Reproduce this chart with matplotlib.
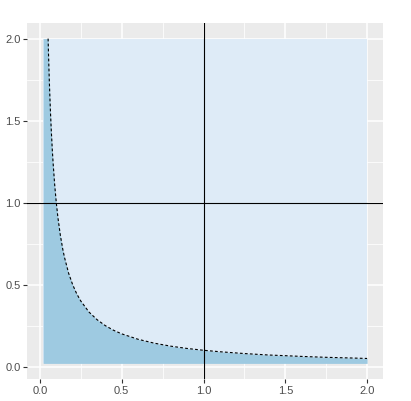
import matplotlib
matplotlib.use("Agg")
import matplotlib.pyplot as plt
import numpy as np

plt.rcParams['font.family'] = ['Liberation Sans', 'DejaVu Sans']

# rectangle bounds (light region)
rect_x = [0.02, 2.0]
rect_y = [0.02, 2.0]

# curve values
curve_x = [0.05, 0.055, 0.06, 0.065, 0.07, 0.075, 0.08, 0.09, 0.1, 0.11, 0.125, 0.14, 0.15,
           0.175, 0.2, 0.225, 0.25, 0.3, 0.35, 0.4, 0.45, 0.5, 0.6, 0.7, 0.8, 0.9, 1.0,
           1.1, 1.25, 1.4, 1.5, 1.6, 1.75, 1.9, 2.0]
curve_y = [2.0, 1.818, 1.667, 1.538, 1.429, 1.333, 1.25, 1.111, 1.0, 0.909, 0.8, 0.714, 0.667,
           0.571, 0.5, 0.444, 0.4, 0.333, 0.286, 0.25, 0.222, 0.2, 0.167, 0.143, 0.125, 0.111, 0.1,
           0.091, 0.08, 0.071, 0.067, 0.0625, 0.057, 0.053, 0.05]

ref_x = 1.0
ref_y = 1.0

xticks = [0.0, 0.5, 1.0, 1.5, 2.0]
yticks = [0.0, 0.5, 1.0, 1.5, 2.0]
xminor = [0.25, 0.75, 1.25, 1.75]
yminor = [0.25, 0.75, 1.25, 1.75]

fig = plt.figure(figsize=(4.11, 4.01), dpi=100)
ax = fig.add_axes([27/411, 1-379.3/401, (383.3-27)/411, (379.3-22.7)/401])
ax.set_facecolor("#EBEBEB")
for v in xminor:
    ax.axvline(v, color="white", lw=0.55, zorder=0)
for v in yminor:
    ax.axhline(v, color="white", lw=0.55, zorder=0)
for v in xticks:
    ax.axvline(v, color="white", lw=1.1, zorder=0)
for v in yticks:
    ax.axhline(v, color="white", lw=1.1, zorder=0)

ax.fill_between(rect_x, [rect_y[0]]*2, [rect_y[1]]*2, color="#DEEBF7", lw=0, zorder=1)
fx = [rect_x[0]] + curve_x
fy = [rect_y[1]] + curve_y
ax.fill_between(fx, [rect_y[0]]*len(fx), fy, color="#9ECAE1", lw=0, zorder=2)
ax.plot(curve_x, curve_y, color="black", ls=(0, (2.5, 2)), lw=0.8, zorder=3)
ax.axvline(ref_x, color="black", lw=0.8, zorder=4)
ax.axhline(ref_y, color="black", lw=0.8, zorder=4)

ax.set_xlim(-0.079, 2.099)
ax.set_ylim(-0.077, 2.097)
ax.set_xticks(xticks)
ax.set_yticks(yticks)
ax.set_xticklabels([f"{v:.1f}" for v in xticks])
ax.set_yticklabels([f"{v:.1f}" for v in yticks])
ax.tick_params(axis="both", colors="#333333", labelcolor="#4D4D4D", labelsize=8,
               length=2.7, width=0.8, pad=2)
for s in ax.spines.values():
    s.set_visible(False)

fig.savefig("out.png", dpi=100)
